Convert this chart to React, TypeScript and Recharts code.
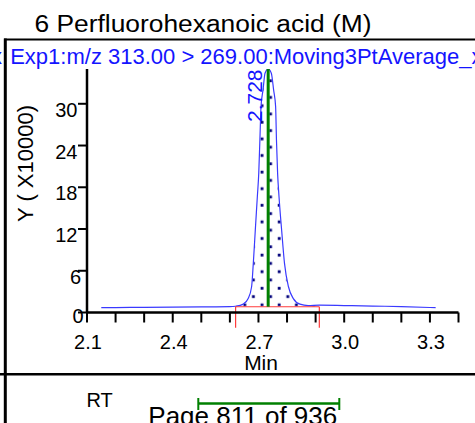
import React from 'react';
import { ComposedChart, Line, Area, XAxis, YAxis, ReferenceLine } from 'recharts';

// ---- data ----
const retentionTimes = [2.15, 2.2, 2.3, 2.4, 2.5, 2.6, 2.62, 2.647, 2.664, 2.676, 2.682, 2.689, 2.696, 2.701, 2.705, 2.709, 2.716, 2.723, 2.734, 2.745, 2.753, 2.76, 2.763, 2.767, 2.772, 2.781, 2.791, 2.805, 2.822, 2.845, 2.874, 2.913, 3.0, 3.1, 3.2, 3.3, 3.32];
const intensities = [0.69, 0.71, 0.74, 0.77, 0.8, 0.84, 0.9, 1.2, 2.0, 3.7, 7.1, 11.9, 16.6, 20.0, 24.8, 29.6, 32.0, 34.4, 35.0, 34.4, 32.0, 29.6, 24.8, 20.0, 16.6, 11.9, 7.1, 3.7, 2.0, 1.2, 1.0, 1.05, 1.0, 0.93, 0.85, 0.72, 0.69];
const xTicks = [2.1, 2.2, 2.3, 2.4, 2.5, 2.6, 2.7, 2.8, 2.9, 3.0, 3.1, 3.2, 3.3, 3.4];
const xLabelTicks = [2.1, 2.4, 2.7, 3.0, 3.3];
const yTicks = [0, 6, 12, 18, 24, 30];
const xDomain = [2.1, 3.4];
const yDomain = [0, 35];
const integrationStart = 2.62;
const integrationEnd = 2.913;
const integrationBase = 0.83;
const integrationTickBottom = -2.18;
const apexTime = 2.734;
const apexHeight = 35;
const peakLabel = '2.728';
const titleText = '6 Perfluorohexanoic acid (M)';
const subtitleText = 'Exp1:m/z 313.00 > 269.00:Moving3PtAverage_x';
const yAxisTitle = 'Y ( X10000)';
const xAxisTitle = 'Min';
const rtText = 'RT';
const pageText = 'Page 811 of 936';

const chartData = retentionTimes.map((t, i) => ({
  t,
  y: intensities[i],
  area: t >= integrationStart - 1e-9 && t <= integrationEnd + 1e-9 ? intensities[i] : null,
}));

const FONT = '"Liberation Sans", Arial, Helvetica, sans-serif';
const BLUE = '#1414ff';
const GREEN = '#008000';
const RED = '#ff3b3b';

const XTick = (props: any) => {
  const { x, y, payload } = props;
  const v = payload.value;
  const show = xLabelTicks.some((t) => Math.abs(t - v) < 1e-6);
  if (!show) return <g />;
  return (
    <text x={x + 1} y={y + 26.5} textAnchor="middle" fontSize={20} fontFamily={FONT} fill="#000">
      {Number(v).toFixed(1)}
    </text>
  );
};

const YTick = (props: any) => {
  const { x, y, payload } = props;
  const v = payload.value;
  let dx = -0.5;
  let dy = 13;
  if (v === 6) dx = 3;
  if (v === 0) {
    dx = 5.5;
    dy = 10.4;
  }
  return (
    <text x={x + dx} y={y + dy} textAnchor="end" fontSize={20} fontFamily={FONT} fill="#000">
      {v}
    </text>
  );
};

const PeakLabel = (props: any) => {
  const vb = props && props.viewBox ? props.viewBox : { x: 268.3, y: 69 };
  const px = vb.x - 6;
  const py = vb.y + 53;
  return (
    <text
      x={px}
      y={py}
      transform={`rotate(-90, ${px}, ${py})`}
      textAnchor="start"
      fontSize={21}
      fontFamily={FONT}
      fill={BLUE}
    >
      {peakLabel}
    </text>
  );
};

const XTitle = (props: any) => {
  const vb = props && props.viewBox ? props.viewBox : { x: 87, y: 312.5, width: 371.5 };
  return (
    <text x={vb.x + vb.width / 2 - 11.7} y={vb.y + 57.5} textAnchor="middle" fontSize={21} fontFamily={FONT} fill="#000">
      {xAxisTitle}
    </text>
  );
};

const YTitle = (props: any) => {
  const vb = props && props.viewBox ? props.viewBox : { x: 0, y: 69 };
  const px = 33;
  const py = vb.y + 94.5;
  return (
    <text x={px} y={py} transform={`rotate(-90, ${px}, ${py})`} textAnchor="middle" fontSize={22} fontFamily={FONT} fill="#000">
      {yAxisTitle}
    </text>
  );
};

export default function App() {
  return (
    <div style={{ position: 'absolute', left: 0, top: 0, width: 475, height: 423, overflow: 'hidden', background: '#fff' }}>
      <ComposedChart
        width={475}
        height={423}
        data={chartData}
        margin={{ top: 69, right: 16.5, bottom: 70.5, left: 0 }}
      >
        <defs>
          <pattern id="dotsPattern" x="0" y="0" width="17.2" height="16.6" patternUnits="userSpaceOnUse">
            <rect x="2.6" y="4.7" width="2.8" height="2.8" fill="#00007a" />
            <rect x="11.2" y="13.0" width="2.8" height="2.8" fill="#00007a" />
          </pattern>
        </defs>
        <XAxis
          dataKey="t"
          type="number"
          domain={xDomain}
          ticks={xTicks}
          allowDataOverflow
          height={40}
          tickSize={10}
          tickMargin={0}
          interval={0}
          tick={<XTick />}
          axisLine={{ stroke: '#000', strokeWidth: 2.5 }}
          tickLine={{ stroke: '#000', strokeWidth: 2 }}
          label={(p: any) => <XTitle {...p} />}
        />
        <YAxis
          type="number"
          domain={yDomain}
          ticks={yTicks}
          allowDataOverflow
          width={87}
          tickSize={9}
          tickMargin={0}
          interval={0}
          tick={<YTick />}
          axisLine={{ stroke: '#000', strokeWidth: 2.5 }}
          tickLine={{ stroke: '#000', strokeWidth: 2 }}
          label={(p: any) => <YTitle {...p} />}
        />
        <Area
          type="monotone"
          dataKey="area"
          baseValue={integrationBase}
          fill="url(#dotsPattern)"
          fillOpacity={1}
          stroke="none"
          isAnimationActive={false}
          dot={false}
          activeDot={false}
        />
        <Line
          type="monotone"
          dataKey="y"
          stroke="#3a3aff"
          strokeWidth={1.2}
          dot={false}
          activeDot={false}
          isAnimationActive={false}
        />
        <ReferenceLine
          segment={[{ x: integrationStart, y: integrationBase }, { x: integrationEnd, y: integrationBase }]}
          stroke={RED}
          strokeWidth={1.2}
          ifOverflow="visible"
        />
        <ReferenceLine
          segment={[{ x: integrationStart, y: integrationBase }, { x: integrationStart, y: integrationTickBottom }]}
          stroke={RED}
          strokeWidth={1.2}
          ifOverflow="visible"
        />
        <ReferenceLine
          segment={[{ x: integrationEnd, y: integrationBase }, { x: integrationEnd, y: integrationTickBottom }]}
          stroke={RED}
          strokeWidth={1.2}
          ifOverflow="visible"
        />
        <ReferenceLine
          segment={[{ x: apexTime, y: integrationBase }, { x: apexTime, y: apexHeight }]}
          stroke={GREEN}
          strokeWidth={3}
          ifOverflow="visible"
          label={(p: any) => <PeakLabel {...p} />}
        />
      </ComposedChart>
      <svg
        width={475}
        height={423}
        style={{ position: 'absolute', left: 0, top: 0, pointerEvents: 'none' }}
      >
        <line x1={4} y1={39.5} x2={475} y2={39.5} stroke="#000" strokeWidth={2.2} />
        <line x1={5.3} y1={38.5} x2={5.3} y2={423} stroke="#000" strokeWidth={3} />
        <line x1={0} y1={374.3} x2={475} y2={374.3} stroke="#000" strokeWidth={2.5} />
        <text x={34.5} y={31.5} fontSize={23} fontFamily={FONT} fill="#000" textLength={337} lengthAdjust="spacingAndGlyphs">
          {titleText}
        </text>
        <text x={-9} y={64} fontSize={22} fontFamily={FONT} fill={BLUE}>x</text>
        <text x={10.2} y={64} fontSize={22} fontFamily={FONT} fill={BLUE}>{subtitleText}</text>
        <text x={86.5} y={406.7} fontSize={20} fontFamily={FONT} fill="#000">{rtText}</text>
        <text x={148.3} y={424.6} fontSize={26} fontFamily={FONT} fill="#000">{pageText}</text>
        <line x1={198.3} y1={403.5} x2={339.3} y2={403.5} stroke={GREEN} strokeWidth={2.5} />
        <line x1={198.3} y1={398} x2={198.3} y2={410} stroke={GREEN} strokeWidth={2} />
        <line x1={339.3} y1={398} x2={339.3} y2={410} stroke={GREEN} strokeWidth={2} />
      </svg>
    </div>
  );
}
